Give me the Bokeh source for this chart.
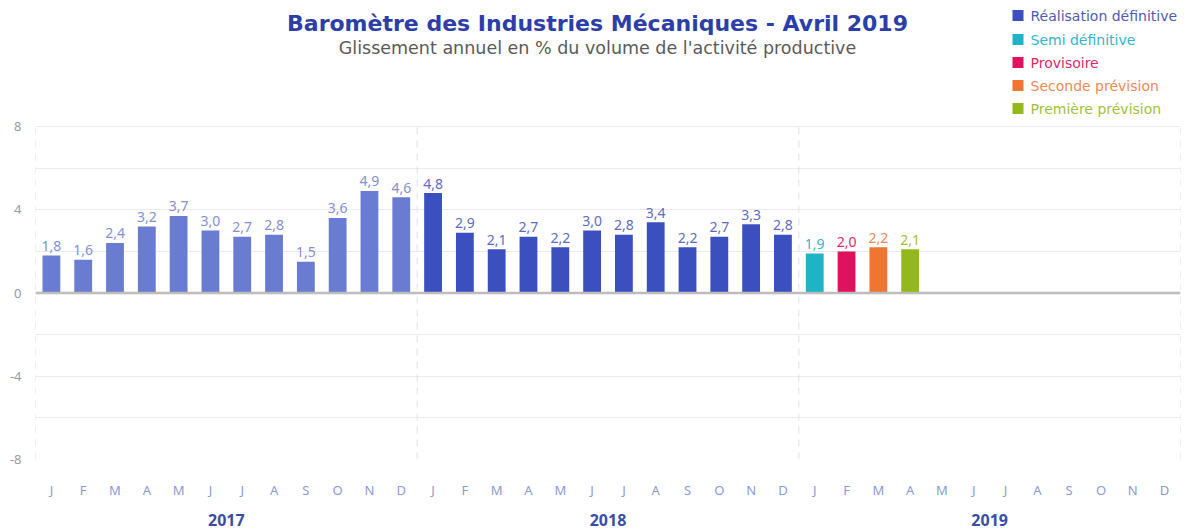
from bokeh.plotting import figure
from bokeh.models import (Range1d, FixedTicker, LinearAxis, Span, ColumnDataSource)
from bokeh.embed import file_html
from bokeh.resources import INLINE
from bokeh.core.properties import value

# ---------------- data ----------------
years = ["2017", "2018", "2019"]
month_letters = ["J", "F", "M", "A", "M", "J", "J", "A", "S", "O", "N", "D"]
values_2017 = [1.8, 1.6, 2.4, 3.2, 3.7, 3.0, 2.7, 2.8, 1.5, 3.6, 4.9, 4.6]
values_2018 = [4.8, 2.9, 2.1, 2.7, 2.2, 3.0, 2.8, 3.4, 2.2, 2.7, 3.3, 2.8]
values_2019 = [1.9, 2.0, 2.2, 2.1]
status_2019 = ["Semi définitive", "Provisoire", "Seconde prévision", "Première prévision"]
legend_labels = ["Réalisation définitive", "Semi définitive", "Provisoire",
                 "Seconde prévision", "Première prévision"]
y_ticks = [-8, -4, 0, 4, 8]
grid_values = [-8, -6, -4, -2, 2, 4, 6, 8]
title_text = "Baromètre des Industries Mécaniques - Avril 2019"
subtitle_text = "Glissement annuel en % du volume de l'activité productive"

# ---------------- styles ----------------
FONT = "Noto Sans"
WIDE = "DejaVu Sans"
W, H = 1197, 531
FL, FR, PT, PB = 35, 1180, 126, 459   # plot-area edges in px (page coords)
status_color = {
    "Réalisation définitive": "#3b4fbf",
    "Semi définitive": "#1fb3c6",
    "Provisoire": "#e0115f",
    "Seconde prévision": "#ee7632",
    "Première prévision": "#93b81e",
}
status_text_color = {
    "Réalisation définitive": "#5e6cc0",
    "Semi définitive": "#33b6c8",
    "Provisoire": "#e02a68",
    "Seconde prévision": "#ee8a58",
    "Première prévision": "#a2bf3e",
}
legend_text_color = dict(status_text_color)
legend_text_color["Réalisation définitive"] = "#4e5cb4"
color_2017 = "#6a7bd2"
text_2017 = "#8391d2"

n_months = 12 * len(years)
x_pos, vals, colors, tcolors = [], [], [], []
for i, v in enumerate(values_2017):
    x_pos.append(i + 0.5); vals.append(v); colors.append(color_2017); tcolors.append(text_2017)
for i, v in enumerate(values_2018):
    x_pos.append(12 + i + 0.5); vals.append(v)
    colors.append(status_color["Réalisation définitive"])
    tcolors.append(status_text_color["Réalisation définitive"])
for i, (v, s) in enumerate(zip(values_2019, status_2019)):
    x_pos.append(24 + i + 0.5); vals.append(v)
    colors.append(status_color[s]); tcolors.append(status_text_color[s])

labels = [f"{v:.1f}".replace(".", ",") for v in vals]
src = ColumnDataSource(dict(x=x_pos, top=vals, color=colors, tcolor=tcolors,
                            label=labels, ly=[v + 0.22 for v in vals]))

# pixel <-> data helpers for header placement
sx = (FR - FL) / n_months
sy = (PB - PT) / (y_ticks[-1] - y_ticks[0])
def dx(px):
    return (px - FL) / sx
def dy(py):
    return y_ticks[-1] + (PT - py) / sy

p = figure(width=W, height=H, output_backend="svg", toolbar_location=None,
           x_range=Range1d(0, n_months), y_range=Range1d(y_ticks[0], dy(0)),
           x_axis_location=None, min_border_left=FL, min_border_right=W - FR,
           min_border_top=0, min_border_bottom=H - PB, outline_line_color=None)
p.xgrid.visible = False

# grid
p.ygrid.ticker = FixedTicker(ticks=grid_values)
p.ygrid.grid_line_color = "#ebebeb"
p.ygrid.grid_line_width = 1

# y axis
p.yaxis.ticker = FixedTicker(ticks=y_ticks)
p.yaxis.major_label_overrides = {t: str(t) for t in y_ticks}
p.yaxis.axis_line_color = None
p.yaxis.major_tick_line_color = None
p.yaxis.minor_tick_line_color = None
p.yaxis.major_tick_out = 0
p.yaxis.major_tick_in = 0
p.yaxis.minor_tick_out = 0
p.yaxis.major_label_text_font = FONT
p.yaxis.major_label_text_font_size = "13px"
p.yaxis.major_label_text_color = "#9a9a9a"
p.yaxis.major_label_standoff = 14

# year separators (dashed, between -8 and 8)
sep_x = [12 * k for k in range(len(years) + 1)]
p.segment(x0=sep_x, x1=sep_x, y0=[y_ticks[0]] * len(sep_x), y1=[y_ticks[-1]] * len(sep_x),
          line_color="#e0e0e0", line_width=1, line_dash="7 6")

# month axis
month_ticks = [i + 0.5 for i in range(n_months)]
month_axis = LinearAxis(ticker=FixedTicker(ticks=month_ticks),
                        major_label_overrides={t: month_letters[i % 12] for i, t in enumerate(month_ticks)})
year_ticks = [12 * k + 6 for k in range(len(years))]
year_axis = LinearAxis(ticker=FixedTicker(ticks=year_ticks),
                       major_label_overrides={t: years[k] for k, t in enumerate(year_ticks)})
for ax in (month_axis, year_axis):
    ax.axis_line_color = None
    ax.major_tick_line_color = None
    ax.minor_tick_line_color = None
    ax.major_tick_out = 0
    ax.major_tick_in = 0
    ax.minor_tick_out = 0
    ax.major_label_text_font = FONT
month_axis.major_label_text_font_size = "13px"
month_axis.major_label_text_color = "#8c9acf"
month_axis.major_label_standoff = 21
year_axis.major_label_text_font_size = "16px"
year_axis.major_label_text_font_style = "bold"
year_axis.major_label_text_color = "#3b4ea6"
year_axis.major_label_standoff = 12
p.add_layout(month_axis, "below")
p.add_layout(year_axis, "below")

# bars
p.vbar(x="x", top="top", bottom=0, width=0.56, fill_color="color",
       line_color=None, source=src)
p.text(x="x", y="ly", text="label", text_color="tcolor", text_align="center",
       text_baseline="bottom", text_font=value(FONT), text_font_size="14px", source=src)

# zero line
p.add_layout(Span(location=0, dimension="width", line_color="#bdbdbd", line_width=2.5))

# title and subtitle
p.text(x=[dx(597)], y=[dy(23)], text=[title_text], text_align="center", text_baseline="middle",
       text_font=value(WIDE), text_font_size="22px", text_font_style="bold",
       text_color="#2c3ea8")
p.text(x=[dx(597)], y=[dy(47)], text=[subtitle_text], text_align="center", text_baseline="middle",
       text_font=value(WIDE), text_font_size="17.5px", text_color="#5a5a5a")

# legend
row_centers = [15, 39, 62, 85, 108]
lsrc = ColumnDataSource(dict(
    y=[dy(c) for c in row_centers], label=legend_labels,
    color=[status_color[l] for l in legend_labels],
    tcolor=[legend_text_color[l] for l in legend_labels]))
p.rect(x=dx(1017.5), y="y", width=11, height=11, width_units="screen", height_units="screen",
       fill_color="color", line_color=None, source=lsrc)
p.text(x=dx(1030), y="y", text="label", text_color="tcolor", text_align="left",
       text_baseline="middle", text_font=value(WIDE), text_font_size="14px", source=lsrc)

open("out.html", "w").write(file_html(p, INLINE))
